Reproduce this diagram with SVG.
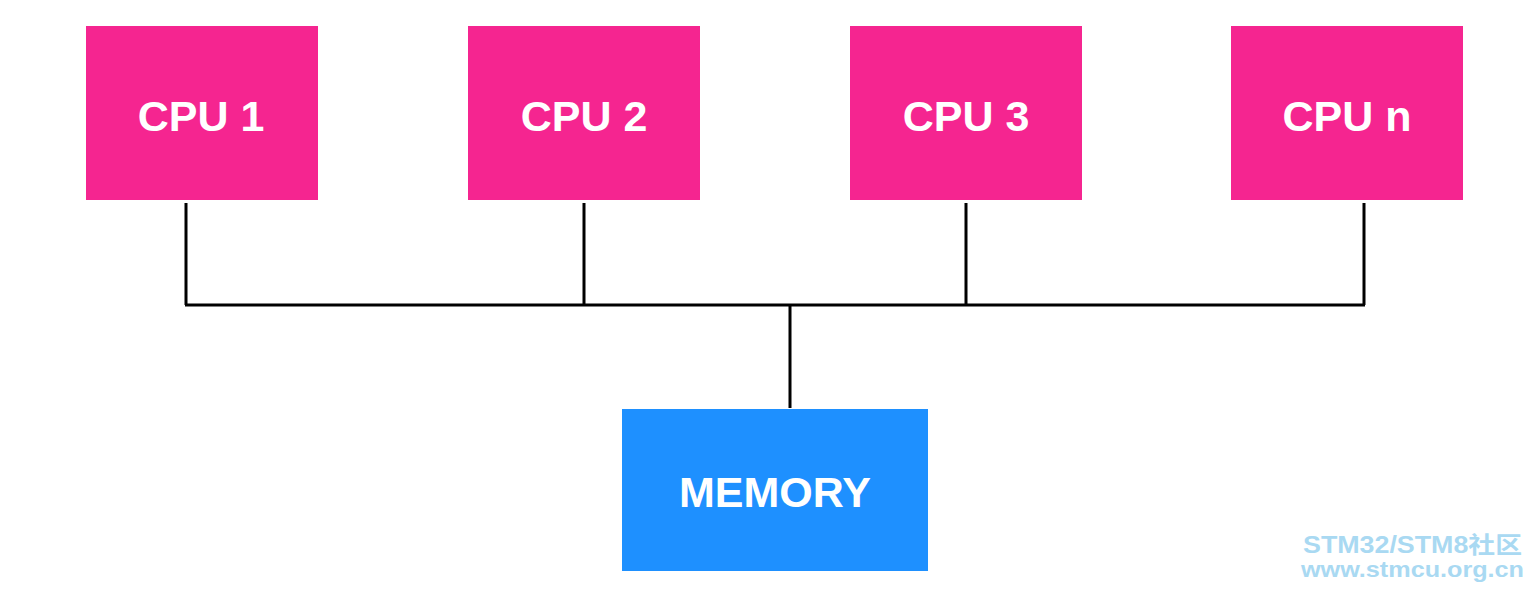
<svg xmlns="http://www.w3.org/2000/svg" width="1534" height="590" viewBox="0 0 1534 590">
<style>
.cpu{fill:#F52590}
.mem{fill:#1E90FF}
.lbl{font-family:"Liberation Sans",Arial,sans-serif;font-weight:bold;font-size:43px;fill:#fff;text-anchor:middle}
.wire{stroke:#000;stroke-width:3;fill:none}
.wm{font-family:"Liberation Sans","Noto Sans CJK SC",sans-serif;font-weight:bold;fill:#A9D9F2}
</style>
<rect width="1534" height="590" fill="#fff"/>
<g id="cpu1"><rect class="cpu" x="86" y="26" width="232" height="174"/><text class="lbl" x="201" y="131">CPU 1</text></g>
<g id="cpu2"><rect class="cpu" x="468" y="26" width="232" height="174"/><text class="lbl" x="584" y="131">CPU 2</text></g>
<g id="cpu3"><rect class="cpu" x="850" y="26" width="232" height="174"/><text class="lbl" x="966" y="131">CPU 3</text></g>
<g id="cpun"><rect class="cpu" x="1231" y="26" width="232" height="174"/><text class="lbl" x="1347" y="131">CPU n</text></g>
<g id="memory"><rect class="mem" x="622" y="409" width="306" height="162"/><text class="lbl" x="775" y="507">MEMORY</text></g>
<g id="connectors">
<path class="wire" d="M186 203V305M584 203V305M966 203V305M1364 203V305M185 305H1365M790 305V408"/>
</g>
<g id="watermark">
<text class="wm" x="1303" y="553" font-size="23" textLength="219" lengthAdjust="spacingAndGlyphs">STM32/STM8社区</text>
<text class="wm" x="1301" y="577" font-size="22" textLength="223" lengthAdjust="spacingAndGlyphs">www.stmcu.org.cn</text>
</g>
</svg>
